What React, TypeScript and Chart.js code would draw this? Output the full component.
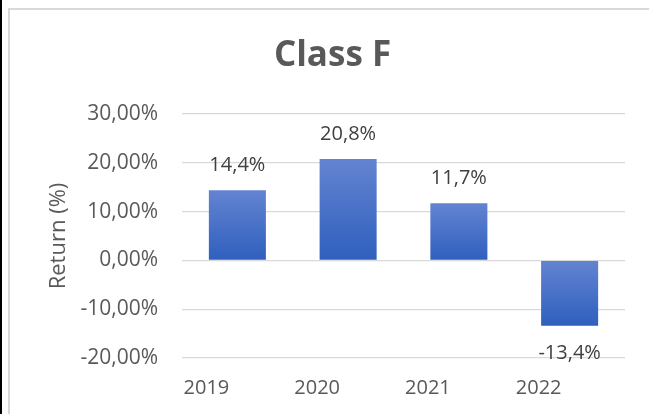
import React, { useEffect, useRef } from "react";
import { Chart, registerables } from "chart.js";

Chart.register(...registerables);

const categories = ["2019", "2020", "2021", "2022"];
const returns = [14.4, 20.8, 11.7, -13.4];
const yMin = -20;
const yMax = 30;
const yStep = 10;
const chartTitle = "Class F";
const yAxisTitle = "Return (%)";

const FONT = "'Open Sans', 'Noto Sans', sans-serif";

const fmtTick = (v: number) => v.toFixed(2).replace(".", ",") + "%";
const fmtLabel = (v: number) => v.toFixed(1).replace(".", ",") + "%";

const dataLabelPlugin = {
  id: "dataLabels",
  afterDatasetsDraw(chart: any) {
    const { ctx } = chart;
    const meta = chart.getDatasetMeta(0);
    const data = chart.data.datasets[0].data as number[];
    ctx.save();
    ctx.font = `20px ${FONT}`;
    ctx.fillStyle = "#404040";
    ctx.textAlign = "center";
    ctx.textBaseline = "middle";
    meta.data.forEach((bar: any, i: number) => {
      const v = data[i];
      const y = v >= 0 ? bar.y - 25 : bar.y + 28;
      ctx.fillText(fmtLabel(v), bar.x, y);
    });
    ctx.restore();
  },
};

export default function App() {
  const ref = useRef<HTMLCanvasElement | null>(null);

  useEffect(() => {
    if (!ref.current) return;
    const chart = new Chart(ref.current, {
      type: "bar",
      data: {
        labels: categories,
        datasets: [
          {
            data: returns,
            categoryPercentage: 1,
            barPercentage: 0.515,
            backgroundColor: (c: any) => {
              const ch = c.chart;
              const scales = ch.scales;
              if (!scales || !scales.y || c.raw === undefined) return "#4472c4";
              const v = c.raw as number;
              const y0 = scales.y.getPixelForValue(0);
              const y1 = scales.y.getPixelForValue(v);
              const top = Math.min(y0, y1);
              const bot = Math.max(y0, y1);
              if (!isFinite(top) || !isFinite(bot) || bot - top < 1) return "#4472c4";
              const g = ch.ctx.createLinearGradient(0, top, 0, bot);
              g.addColorStop(0, "#6384d1");
              g.addColorStop(1, "#2f5fbe");
              return g;
            },
            borderWidth: 0,
          },
        ],
      },
      options: {
        responsive: false,
        animation: false,
        layout: { padding: { left: 30, right: 29, top: 0, bottom: 14 } },
        plugins: {
          legend: { display: false },
          tooltip: { enabled: false },
          title: {
            display: true,
            text: chartTitle,
            color: "#595959",
            font: { family: FONT, size: 35, weight: "bold" },
            padding: { top: 25, bottom: 37 },
          },
        },
        scales: {
          x: {
            grid: { display: false, drawTicks: false },
            border: { display: false },
            ticks: {
              color: "#595959",
              font: { family: FONT, size: 20 },
              padding: 18,
              maxRotation: 0,
              labelOffset: -31,
            },
            afterFit: (s: any) => {
              s.height = 42;
            },
          },
          y: {
            min: yMin,
            max: yMax,
            grid: { color: "#d9d9d9", lineWidth: 1.25, drawTicks: false },
            border: { display: false },
            ticks: {
              stepSize: yStep,
              color: "#595959",
              font: { family: FONT, size: 21 },
              padding: 24,
              callback: (v: any) => fmtTick(Number(v)),
            },
            title: {
              display: true,
              text: yAxisTitle,
              color: "#595959",
              font: { family: FONT, size: 22 },
              padding: { top: 6, bottom: 0 },
            },
            afterFit: (s: any) => {
              s.width = 142;
            },
          },
        },
      },
      plugins: [dataLabelPlugin],
    });
    return () => chart.destroy();
  }, []);

  return (
    <>
      <div
        style={{
          position: "fixed",
          left: 0,
          top: 0,
          width: 2,
          height: "100%",
          background: "#000",
        }}
      />
      <div
        style={{
          position: "fixed",
          left: 8,
          top: 8,
          width: 700,
          height: 440,
          border: "2px solid #d9d9d9",
          background: "#fff",
        }}
      >
        <canvas ref={ref} width={644} height={404} style={{ display: "block" }} />
      </div>
    </>
  );
}
